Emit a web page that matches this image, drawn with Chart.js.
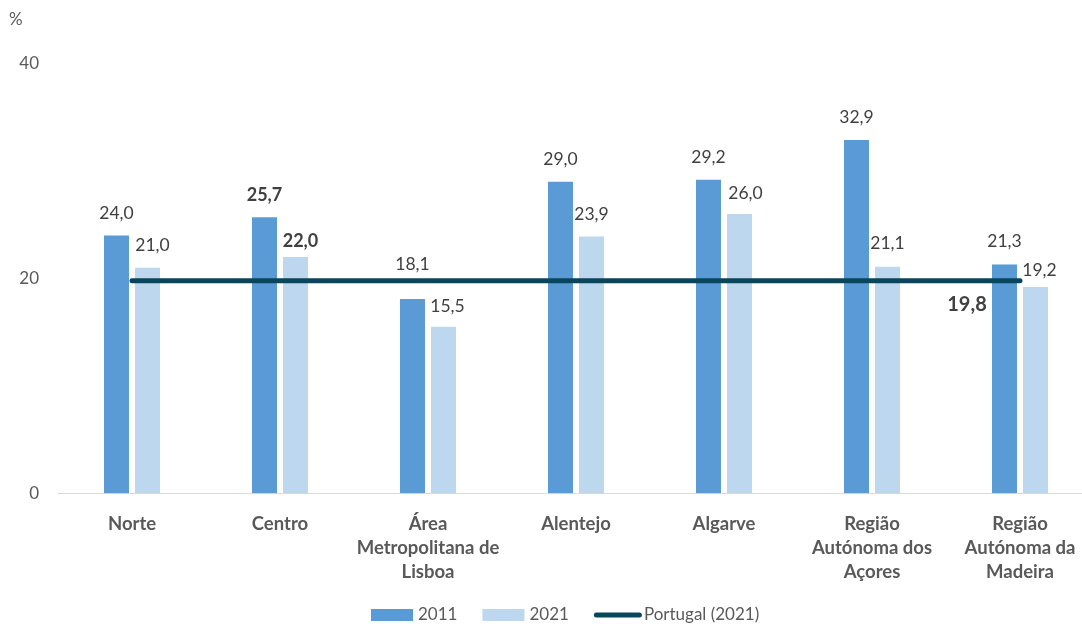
<!DOCTYPE html>
<html>
<head>
<meta charset="utf-8">
<script src="https://cdn.jsdelivr.net/npm/chart.js@4/dist/chart.umd.min.js"></script>
<style>
  html, body { margin: 0; padding: 0; background: #ffffff; overflow: hidden; }
  #wrap { width: 1100px; height: 626px; position: relative; }
</style>
</head>
<body>
<div id="wrap"><canvas id="chart" width="1100" height="626"></canvas></div>
<script>
// Regions (NUTS II) and their values, in %
const regions = [
  'Norte',
  'Centro',
  ['Área', 'Metropolitana de', 'Lisboa'],
  'Alentejo',
  'Algarve',
  ['Região', 'Autónoma dos', 'Açores'],
  ['Região', 'Autónoma da', 'Madeira']
];
const values2011 = [24.0, 25.7, 18.1, 29.0, 29.2, 32.9, 21.3];
const values2021 = [21.0, 22.0, 15.5, 23.9, 26.0, 21.1, 19.2];
const portugal2021 = [19.8, 19.8, 19.8, 19.8, 19.8, 19.8, 19.8];
const yTicks = [0, 20, 40];
const seriesNames = ['2011', '2021', 'Portugal (2021)'];

const FONT = 'Lato, "Open Sans", sans-serif';
const COL_2011 = '#5B9BD5';
const COL_2021 = '#BDD7EE';
const COL_PT = '#08465C';
const COL_TEXT = '#595959';
const COL_VALUE = '#404040';

// Per-label nudges (dx, dy) in px, keyed "category-series"
const labelNudge = {
  '0-1': [5, 0], '1-1': [5, 6], '2-0': [0, -13], '2-1': [4, 2],
  '4-1': [6, 1], '5-0': [0, -1], '5-1': [0, -1], '6-0': [0, -1], '6-1': [4, 5]
};
const boldLabels = ['1-0', '1-1'];

const fmt = v => v.toFixed(1).replace('.', ',');

const valueLabels = {
  id: 'valueLabels',
  afterDatasetsDraw(chart) {
    const ctx = chart.ctx;
    ctx.save();
    ctx.textAlign = 'center';
    ctx.textBaseline = 'middle';
    ctx.fillStyle = COL_VALUE;
    [0, 1].forEach(di => {
      const meta = chart.getDatasetMeta(di);
      const data = chart.data.datasets[di].data;
      meta.data.forEach((el, i) => {
        const key = i + '-' + di;
        const n = labelNudge[key] || [0, 0];
        ctx.font = boldLabels.includes(key) ? 'bold 18px ' + FONT : '17.5px ' + FONT;
        ctx.fillText(fmt(data[i]), el.x + n[0], el.y - 22 + n[1]);
      });
    });
    // national value, written beside the line's right end
    const lm = chart.getDatasetMeta(2);
    const last = lm.data[lm.data.length - 1];
    ctx.font = 'bold 20px ' + FONT;
    ctx.fillText(fmt(portugal2021[portugal2021.length - 1]), last.x - 53, last.y + 24);
    ctx.restore();
  }
};

const extras = {
  id: 'extras',
  afterDraw(chart) {
    const ctx = chart.ctx;
    ctx.save();
    // unit
    ctx.font = '17px ' + FONT;
    ctx.fillStyle = COL_TEXT;
    ctx.textAlign = 'left';
    ctx.textBaseline = 'middle';
    ctx.fillText('%', 9, 20);
    // legend
    const y = 615;
    let x = 371;
    const items = [
      { kind: 'box', color: COL_2011, text: seriesNames[0] },
      { kind: 'box', color: COL_2021, text: seriesNames[1] },
      { kind: 'line', color: COL_PT, text: seriesNames[2] }
    ];
    items.forEach(it => {
      if (it.kind === 'box') {
        ctx.fillStyle = it.color;
        ctx.fillRect(x, y - 6, 42, 12);
        x += 47;
      } else {
        ctx.strokeStyle = it.color;
        ctx.lineWidth = 5;
        ctx.lineCap = 'round';
        ctx.beginPath();
        ctx.moveTo(x + 2.5, y);
        ctx.lineTo(x + 45.5, y);
        ctx.stroke();
        x += 50;
      }
      ctx.fillStyle = COL_TEXT;
      ctx.fillText(it.text, x, y);
      x += ctx.measureText(it.text).width + 25;
    });
    ctx.restore();
  }
};

new Chart(document.getElementById('chart'), {
  data: {
    labels: regions,
    datasets: [
      { type: 'bar', label: seriesNames[0], data: values2011, backgroundColor: COL_2011, order: 1,
        categoryPercentage: 0.419, barPercentage: 0.806 },
      { type: 'bar', label: seriesNames[1], data: values2021, backgroundColor: COL_2021, order: 1,
        categoryPercentage: 0.419, barPercentage: 0.806 },
      { type: 'line', label: seriesNames[2], data: portugal2021, borderColor: COL_PT, borderWidth: 5,
        borderCapStyle: 'round', pointRadius: 0, pointHoverRadius: 0, fill: false, order: 0 }
    ]
  },
  options: {
    responsive: false,
    animation: false,
    devicePixelRatio: 1,
    layout: { padding: { top: 63.7, right: 6, bottom: 0, left: 0 } },
    plugins: { legend: { display: false }, tooltip: { enabled: false } },
    scales: {
      x: {
        grid: { display: false, drawTicks: false },
        border: { display: true, color: '#D9D9D9', width: 1 },
        ticks: {
          color: COL_TEXT, padding: 19, maxRotation: 0, autoSkip: false,
          font: { family: FONT, size: 18.5, weight: 'bold', lineHeight: '24px' }
        },
        afterFit(scale) { scale.height = 626 - 493.3; }
      },
      y: {
        min: 0, max: 40,
        grid: { display: false, drawTicks: false },
        border: { display: false },
        afterBuildTicks(scale) { scale.ticks = yTicks.map(v => ({ value: v })); },
        ticks: {
          color: COL_TEXT, padding: 19,
          font: { family: FONT, size: 17 },
          callback: v => String(v)
        },
        afterFit(scale) { scale.width = 58; }
      }
    }
  },
  plugins: [valueLabels, extras]
});
</script>
</body>
</html>
